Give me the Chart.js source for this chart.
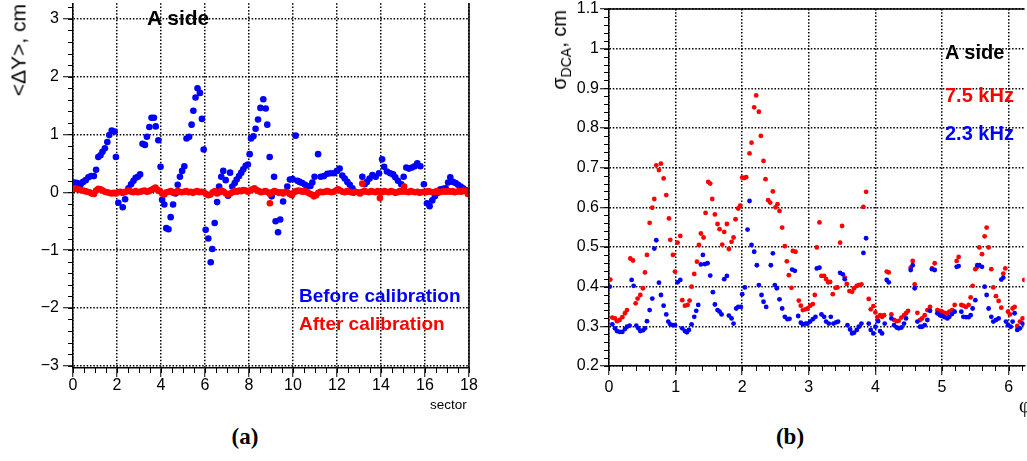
<!DOCTYPE html>
<html><head><meta charset="utf-8">
<script src="https://cdn.jsdelivr.net/npm/chart.js@4.4.1/dist/chart.umd.min.js"></script>
<style>
html,body{margin:0;padding:0;background:#fff;width:1027px;height:461px;overflow:hidden;position:relative;}
canvas{position:absolute;top:0;}
.t{position:absolute;white-space:nowrap;font-family:'Liberation Sans',Arial,Helvetica,sans-serif;line-height:1;color:#000;}
.b{font-weight:bold;}
.rot{transform-origin:0 0;transform:rotate(-90deg) translate(-100%,-50%);}
.cap{position:absolute;font-family:'Liberation Serif','DejaVu Serif',serif;font-weight:bold;font-size:23px;line-height:1;width:60px;text-align:center;}
</style></head>
<body>
<canvas id="ca" width="490" height="400" style="left:0px"></canvas>
<canvas id="cb" width="527" height="400" style="left:500px"></canvas>

<div class="t rot" style="left:17.7px;top:4px;font-size:21px;">&lt;ΔY&gt;, cm</div>
<div class="t b" style="left:147px;top:6.7px;font-size:21px;">A side</div>
<div class="t b" style="left:299px;top:286px;font-size:19px;color:#0000ff;">Before calibration</div>
<div class="t b" style="left:299px;top:314px;font-size:19px;color:#ff0000;">After calibration</div>
<div class="t" style="left:430px;top:398px;font-size:13.5px;">sector</div>

<div class="t rot" style="left:559px;top:10px;font-size:20px;">σ<sub style="font-size:14px;vertical-align:-5px;line-height:0;">DCA</sub>, cm</div>
<div class="t b" style="left:945px;top:42.4px;font-size:20px;">A side</div>
<div class="t b" style="left:945px;top:84.8px;font-size:20px;color:#ff0000;">7.5 kHz</div>
<div class="t b" style="left:945px;top:123px;font-size:20px;color:#0000ff;">2.3 kHz</div>
<div class="t" style="left:1019px;top:395px;font-size:20px;font-family:'Liberation Serif',serif;">φ</div>

<div class="cap" style="left:215px;top:425px;">(a)</div>
<div class="cap" style="left:760px;top:425px;">(b)</div>

<script>
// ---------- Panel (a): <ΔY> vs sector ----------
const sectorTicks = [0,2,4,6,8,10,12,14,16,18];
const sectorLabels = ['0','2','4','6','8','10','12','14','16','18'];
const dyTicks = [-3,-2,-1,0,1,2,3];
const dyLabels = ['\u22123','\u22122','\u22121','0','1','2','3'];

const beforeX = [0.08,0.20,0.35,0.46,0.58,0.70,0.82,0.95,1.05,1.15,1.25,1.34,1.45,1.56,1.65,1.76,1.89,1.95,
 2.06,2.26,2.37,2.52,2.64,2.75,2.85,2.95,3.05,3.16,3.27,3.36,3.47,3.57,3.68,3.76,3.88,3.98,
 4.05,4.15,4.24,4.34,4.44,4.55,4.66,4.76,4.86,4.96,5.06,5.16,5.28,5.39,5.47,5.57,5.66,5.77,5.86,5.94,
 6.03,6.15,6.26,6.33,6.44,6.55,6.64,6.74,6.83,6.94,7.05,7.14,7.24,7.35,7.44,7.55,7.65,7.74,7.85,7.95,
 8.03,8.09,8.20,8.30,8.41,8.52,8.65,8.76,8.83,8.94,
 9.03,9.14,9.21,9.32,9.42,9.55,9.74,9.86,9.98,
 10.12,10.20,10.30,10.42,10.55,10.67,10.79,10.88,10.98,11.14,11.26,11.41,11.56,11.71,11.86,
 12.00,12.12,12.24,12.35,12.47,12.58,12.70,12.80,
 13.15,13.26,13.36,13.48,13.61,13.76,13.91,14.05,14.14,14.27,14.42,14.55,14.65,14.77,14.92,
 15.03,15.15,15.27,15.41,15.53,15.65,15.79,15.95,
 16.09,16.21,16.33,16.45,16.58,16.70,16.82,16.94,17.05,17.15,17.27,17.39,17.50,17.62,17.73,17.85,17.95];
const beforeY = [0.17,0.16,0.14,0.18,0.21,0.26,0.28,0.28,0.39,0.61,0.64,0.70,0.76,0.87,0.99,1.07,1.05,0.61,
 -0.18,-0.26,-0.12,0.07,0.14,0.20,0.25,0.27,0.31,0.84,0.82,0.96,1.13,1.29,1.29,1.14,0.90,0.44,
 -0.13,-0.21,-0.62,-0.64,-0.43,-0.21,-0.02,0.13,0.27,0.37,0.45,0.93,0.96,1.17,1.41,1.64,1.80,1.72,1.27,0.74,
 -0.65,-0.80,-1.21,-0.98,-0.53,-0.17,0.10,0.27,0.37,0.21,-0.06,0.34,0.10,0.16,0.22,0.28,0.34,0.40,0.46,0.48,
 0.66,0.93,0.97,1.10,1.26,1.46,1.61,1.45,1.17,0.61,
 -0.07,0.27,-0.50,-0.69,-0.47,-0.16,0.10,0.22,0.23,
 0.98,0.20,0.18,0.16,0.13,0.10,0.11,0.17,0.27,0.66,0.27,0.28,0.32,0.33,0.33,
 0.37,0.41,0.29,0.24,0.18,0.13,0.07,0.01,
 0.27,0.14,0.18,0.24,0.30,0.27,0.33,0.57,0.44,0.36,0.33,0.31,0.26,0.20,0.14,
 0.27,0.43,0.41,0.43,0.45,0.50,0.45,0.14,
 -0.19,-0.24,-0.14,-0.07,-0.01,0.05,0.06,0.07,0.17,0.26,0.18,0.16,0.13,0.10,0.07,0.04,0.01];

const afterX = [0.05,0.15,0.25,0.35,0.45,0.55,0.65,0.75,0.85,0.95,
 1.05,1.15,1.25,1.35,1.45,1.55,1.65,1.75,1.85,1.95,
 2.05,2.15,2.25,2.35,2.45,2.55,2.65,2.75,2.85,2.95,
 3.05,3.15,3.25,3.35,3.45,3.55,3.65,3.75,3.85,3.95,
 4.05,4.15,4.25,4.35,4.45,4.55,4.65,4.75,4.85,4.95,
 5.05,5.15,5.25,5.35,5.45,5.55,5.65,5.75,5.85,5.95,
 6.05,6.15,6.25,6.35,6.45,6.55,6.65,6.75,6.85,6.95,
 7.05,7.15,7.25,7.35,7.45,7.55,7.65,7.75,7.85,7.95,
 8.05,8.15,8.25,8.35,8.45,8.55,8.65,8.75,8.85,8.95,
 9.05,9.15,9.25,9.35,9.45,9.55,9.65,9.75,9.85,9.95,
 10.05,10.15,10.25,10.35,10.45,10.55,10.65,10.75,10.85,10.95,
 11.05,11.15,11.25,11.35,11.45,11.55,11.65,11.75,11.85,11.95,
 12.05,12.15,12.25,12.35,12.45,12.55,12.65,12.75,12.85,12.95,
 13.05,13.15,13.25,13.35,13.45,13.55,13.65,13.75,13.85,13.95,
 14.05,14.15,14.25,14.35,14.45,14.55,14.65,14.75,14.85,14.95,
 15.05,15.15,15.25,15.35,15.45,15.55,15.65,15.75,15.85,15.95,
 16.05,16.15,16.25,16.35,16.45,16.55,16.65,16.75,16.85,16.95,
 17.05,17.15,17.25,17.35,17.45,17.55,17.65,17.75,17.85,17.95,
 8.95,13.15,13.95,15.05];
const afterY = [0.06,0.06,0.05,0.04,0.03,0.02,0.01,0.00,-0.02,-0.03,
 0.03,0.06,0.05,0.03,0.01,0.00,-0.01,-0.02,-0.01,-0.02,
 0.00,0.01,-0.01,0.00,0.02,0.03,0.01,0.00,0.02,0.00,
 0.01,0.02,0.03,0.01,0.02,0.04,0.06,0.08,0.04,0.02,
 -0.02,-0.04,0.00,0.01,0.02,-0.01,0.00,0.02,0.01,0.00,
 0.01,0.02,0.00,0.01,-0.01,0.01,0.02,0.00,0.01,0.00,
 -0.03,-0.05,-0.04,0.00,0.02,-0.02,0.00,0.03,0.01,-0.02,
 -0.04,-0.02,0.00,0.02,0.01,0.03,0.02,0.04,0.03,0.01,
 0.03,0.05,0.07,0.04,0.02,0.00,0.01,0.02,0.00,-0.03,
 0.00,0.02,0.01,-0.01,0.00,-0.02,0.01,0.00,-0.03,-0.05,
 0.00,0.02,0.03,0.02,0.01,0.02,0.00,-0.02,-0.04,-0.07,
 -0.05,-0.01,0.01,0.00,0.01,0.02,0.01,0.00,0.01,0.03,
 0.05,0.03,0.01,0.00,0.02,0.01,0.00,-0.01,0.01,0.00,
 -0.02,0.01,0.02,0.01,0.00,0.02,0.01,0.00,0.02,0.01,
 0.00,0.02,0.01,0.00,0.02,0.01,-0.01,0.00,0.02,0.01,
 0.02,0.01,0.00,0.02,0.01,0.00,0.01,-0.01,0.00,0.01,
 0.00,0.02,0.01,0.00,0.01,0.02,0.00,0.01,0.02,0.01,
 0.02,0.01,0.02,0.00,0.01,0.02,0.01,0.03,0.02,-0.03,
 -0.19,0.15,-0.10,0.10];

// ---------- Panel (b): sigma_DCA vs phi ----------
const phiTicks = [0,1,2,3,4,5,6];
const phiLabels = ['0','1','2','3','4','5','6'];
const sigmaTicks = [0.2,0.3,0.4,0.5,0.6,0.7,0.8,0.9,1.0,1.1];
const sigmaLabels = ['0.2','0.3','0.4','0.5','0.6','0.7','0.8','0.9','1','1.1'];

const khz75X = [0.02,0.05,0.09,0.12,0.16,0.20,0.24,0.27,0.32,0.36,0.40,0.43,0.47,0.51,0.54,0.57,0.61,0.65,0.68,0.71,0.75,0.78,0.82,0.86,0.90,0.92,0.96,0.99,
 1.03,1.07,1.10,1.14,1.18,1.21,1.24,1.28,1.32,1.35,1.38,1.42,1.45,1.49,1.52,1.55,1.59,1.63,1.66,1.70,1.73,1.77,1.80,1.84,1.87,1.90,1.94,1.97,
 2.00,2.03,2.06,2.11,2.14,2.18,2.21,2.25,2.28,2.32,2.35,2.39,2.42,2.46,2.50,2.53,2.56,2.60,2.64,2.67,2.70,2.74,2.76,2.80,2.85,2.88,2.91,2.95,2.98,
 3.02,3.06,3.09,3.12,3.16,3.19,3.23,3.26,3.29,3.32,3.36,3.40,3.43,3.47,3.50,3.54,3.57,3.61,3.65,3.68,3.72,3.75,3.79,3.82,3.86,3.90,3.93,3.97,
 4.00,4.03,4.07,4.10,4.13,4.17,4.20,4.24,4.28,4.32,4.35,4.39,4.43,4.46,4.49,4.53,4.56,4.59,4.63,4.67,4.70,4.74,4.78,4.82,4.85,4.89,4.93,4.97,
 5.00,5.04,5.08,5.11,5.15,5.19,5.22,5.25,5.29,5.32,5.36,5.40,5.43,5.46,5.50,5.53,5.56,5.60,5.64,5.67,5.70,5.74,5.77,5.81,5.85,5.89,5.92,5.95,5.99,
 6.02,6.06,6.09,6.13,6.17,6.21,6.235];
const khz75Y = [0.418,0.322,0.320,0.313,0.316,0.323,0.333,0.341,0.471,0.466,0.358,0.370,0.379,0.396,0.436,0.480,0.561,0.599,0.621,0.706,0.694,0.710,0.673,0.631,0.572,0.518,0.480,0.438,
 0.511,0.528,0.366,0.352,0.354,0.365,0.400,0.432,0.463,0.505,0.534,0.524,0.586,0.664,0.660,0.621,0.582,0.558,0.545,0.506,0.538,0.558,0.495,0.513,0.524,0.570,0.597,0.604,
 0.675,0.674,0.676,0.736,0.763,0.852,0.882,0.841,0.780,0.717,0.671,0.618,0.612,0.640,0.600,0.608,0.591,0.549,0.502,0.464,0.429,0.397,0.490,0.488,0.365,0.352,0.341,0.343,0.345,
 0.352,0.356,0.379,0.499,0.562,0.427,0.427,0.419,0.411,0.412,0.381,0.397,0.398,0.511,0.553,0.423,0.407,0.389,0.387,0.396,0.402,0.404,0.406,0.601,0.639,0.369,0.343,0.351,
 0.335,0.323,0.328,0.324,0.328,0.438,0.436,0.330,0.316,0.313,0.314,0.322,0.328,0.333,0.339,0.448,0.465,0.406,0.334,0.316,0.320,0.328,0.341,0.349,0.446,0.459,0.341,0.339,
 0.337,0.334,0.333,0.337,0.341,0.354,0.465,0.475,0.354,0.352,0.349,0.354,0.373,0.402,0.444,0.450,0.499,0.482,0.527,0.549,0.499,0.444,0.398,0.376,0.364,0.347,0.433,0.446,0.337,
 0.330,0.345,0.349,0.301,0.312,0.320,0.417];

const khz23X = [0.01,0.05,0.09,0.12,0.16,0.20,0.24,0.27,0.31,0.34,0.37,0.41,0.44,0.47,0.51,0.54,0.57,0.61,0.65,0.68,0.71,0.75,0.78,0.82,0.86,0.89,0.92,0.96,0.99,
 1.03,1.07,1.10,1.14,1.17,1.20,1.24,1.28,1.31,1.34,1.38,1.41,1.44,1.48,1.52,1.56,1.59,1.63,1.66,1.69,1.73,1.77,1.80,1.84,1.87,1.91,1.94,1.98,
 2.00,2.04,2.08,2.11,2.14,2.18,2.22,2.25,2.29,2.32,2.36,2.43,2.46,2.49,2.52,2.56,2.60,2.64,2.68,2.71,2.75,2.79,2.84,2.88,2.91,2.95,2.98,
 3.02,3.06,3.10,3.12,3.16,3.19,3.23,3.26,3.30,3.33,3.37,3.41,3.44,3.47,3.51,3.54,3.58,3.62,3.65,3.68,3.72,3.75,3.79,3.82,3.86,3.90,3.93,3.97,
 4.00,4.04,4.07,4.10,4.14,4.17,4.20,4.24,4.28,4.32,4.35,4.39,4.43,4.46,4.53,4.56,4.59,4.63,4.67,4.70,4.74,4.78,4.82,4.85,4.89,4.93,4.97,
 5.00,5.04,5.08,5.11,5.15,5.19,5.22,5.25,5.29,5.32,5.36,5.40,5.43,5.46,5.50,5.53,5.56,5.60,5.64,5.67,5.70,5.74,5.77,5.81,5.85,5.89,5.92,5.96,5.99,
 6.03,6.06,6.09,6.13,6.17,6.21];
const khz23Y = [0.400,0.305,0.295,0.288,0.286,0.286,0.293,0.299,0.302,0.417,0.402,0.302,0.295,0.288,0.290,0.295,0.313,0.341,0.370,0.496,0.517,0.410,0.379,0.352,0.330,0.312,0.305,0.303,0.303,
 0.411,0.417,0.295,0.288,0.285,0.291,0.305,0.324,0.339,0.354,0.456,0.480,0.457,0.459,0.428,0.386,0.355,0.341,0.337,0.330,0.419,0.427,0.327,0.320,0.307,0.345,0.349,0.349,
 0.381,0.398,0.544,0.616,0.505,0.488,0.454,0.404,0.379,0.362,0.349,0.454,0.484,0.404,0.396,0.368,0.345,0.324,0.318,0.319,0.443,0.440,0.326,0.309,0.305,0.307,0.307,
 0.312,0.318,0.324,0.446,0.448,0.330,0.324,0.312,0.307,0.324,0.307,0.310,0.312,0.435,0.431,0.419,0.303,0.292,0.282,0.284,0.291,0.299,0.307,0.485,0.522,0.307,0.291,0.282,
 0.299,0.313,0.288,0.282,0.307,0.417,0.411,0.320,0.303,0.297,0.295,0.297,0.307,0.320,0.442,0.454,0.396,0.312,0.299,0.299,0.303,0.316,0.339,0.444,0.442,0.333,0.328,
 0.326,0.323,0.320,0.324,0.331,0.337,0.450,0.452,0.337,0.324,0.323,0.323,0.328,0.345,0.366,0.454,0.454,0.450,0.400,0.379,0.345,0.324,0.312,0.316,0.320,0.418,0.423,0.312,0.303,
 0.299,0.312,0.333,0.291,0.295,0.307];

// ---------- helpers ----------
const pts = (xs, ys) => xs.map((x, i) => ({x: x, y: ys[i]}));
const FONT = "'Liberation Sans', Arial, Helvetica, sans-serif";

const framePlugin = {
  id: 'frame',
  afterDraw(chart, args, o) {
    const ctx = chart.ctx, a = chart.chartArea;
    ctx.save();
    ctx.strokeStyle = '#000';
    ctx.lineWidth = 1;
    ctx.setLineDash([]);
    const xs = chart.scales.x, ys = chart.scales.y;
    const drawMinor = (s, step, isX) => {
      const n0 = Math.ceil(s.min / step - 1e-6), n1 = Math.floor(s.max / step + 1e-6);
      for (let n = n0; n <= n1; n++) {
        const p = Math.round(s.getPixelForValue(n * step)) + 0.5;
        ctx.beginPath();
        if (isX) { ctx.moveTo(p, a.bottom); ctx.lineTo(p, a.bottom + o.minorLen); }
        else { ctx.moveTo(a.left - o.minorLen, p); ctx.lineTo(a.left, p); }
        ctx.stroke();
      }
    };
    drawMinor(xs, o.xMinor, true);
    drawMinor(ys, o.yMinor, false);
    ctx.lineWidth = 1.5;
    if (o.right) { ctx.beginPath(); ctx.moveTo(a.right, a.top); ctx.lineTo(a.right, a.bottom); ctx.stroke(); }
    if (o.top) { ctx.beginPath(); ctx.moveTo(a.left, a.top); ctx.lineTo(a.right, a.top); ctx.stroke(); }
    ctx.restore();
  }
};

function axis(min, max, tickVals, tickLabels, tickLen, pad, fitFn) {
  return {
    type: 'linear', min: min, max: max,
    afterBuildTicks: s => { s.ticks = tickVals.map(v => ({value: v})); },
    afterFit: fitFn,
    grid: {display: true, drawOnChartArea: true, drawTicks: true, color: '#000', lineWidth: 1.5,
           tickLength: tickLen, tickColor: '#000', tickWidth: 1, tickBorderDash: []},
    border: {display: true, color: '#000', width: 1.5, dash: [1.5, 1.8]},
    ticks: {color: '#000', padding: pad, font: {family: FONT, size: 16}, autoSkip: false, maxRotation: 0,
            callback: (v, i) => tickLabels[i]}
  };
}

Chart.defaults.animation = false;

new Chart(document.getElementById('ca'), {
  type: 'scatter',
  data: {datasets: [
    {label: 'After calibration', data: pts(afterX, afterY), backgroundColor: '#ff0000', borderWidth: 0, pointRadius: 3.3, pointHoverRadius: 3.3, order: 0},
    {label: 'Before calibration', data: pts(beforeX, beforeY), backgroundColor: '#0000ff', borderWidth: 0, pointRadius: 3.3, pointHoverRadius: 3.3, order: 1}
  ]},
  options: {
    responsive: false, animation: false, devicePixelRatio: 1,
    layout: {padding: {left: 0, right: 21, top: 0, bottom: 0}},
    plugins: {legend: {display: false}, tooltip: {enabled: false},
              frame: {xMinor: 0.5, yMinor: 0.2, minorLen: 5, right: true, top: false}},
    scales: {
      x: axis(0, 18, sectorTicks, sectorLabels, 9, -1, s => { s.height = 32; s.paddingLeft = 0; s.paddingRight = 0; }),
      y: axis(-3.04, 3.27, dyTicks, dyLabels, 10, 4, s => { s.width = 73; s.paddingTop = 0; s.paddingBottom = 0; })
    }
  },
  plugins: [framePlugin]
});

new Chart(document.getElementById('cb'), {
  type: 'scatter',
  data: {datasets: [
    {label: '2.3 kHz', data: pts(khz23X, khz23Y), backgroundColor: '#0000ff', borderWidth: 0, pointRadius: 2.4, pointHoverRadius: 2.4, order: 0},
    {label: '7.5 kHz', data: pts(khz75X, khz75Y), backgroundColor: '#ff0000', borderWidth: 0, pointRadius: 2.4, pointHoverRadius: 2.4, order: 1}
  ]},
  options: {
    responsive: false, animation: false, devicePixelRatio: 1,
    layout: {padding: {left: 0, right: 0, top: 9, bottom: 0}},
    plugins: {legend: {display: false}, tooltip: {enabled: false},
              frame: {xMinor: 0.2, yMinor: 0.02, minorLen: 5, right: false, top: true}},
    scales: {
      x: axis(0, 6.24, phiTicks, phiLabels, 9, 3, s => { s.height = 34; s.paddingLeft = 0; s.paddingRight = 0; }),
      y: axis(0.2, 1.1, sigmaTicks, sigmaLabels, 9, 1, s => { s.width = 109; s.paddingTop = 0; s.paddingBottom = 0; })
    }
  },
  plugins: [framePlugin]
});
</script>
</body></html>
